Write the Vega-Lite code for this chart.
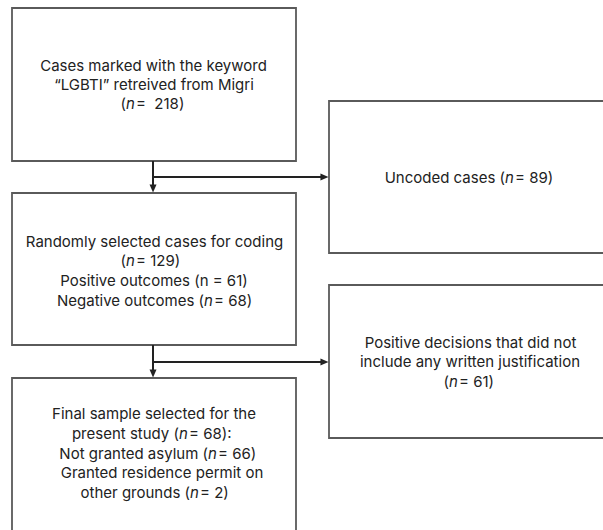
{
  "$schema": "https://vega.github.io/schema/vega-lite/v6.json",
  "width": 603,
  "height": 530,
  "autosize": "none",
  "padding": 0,
  "background": "white",
  "config": {"view": {"stroke": null}},
  "datasets": {
    "boxes": [
      {"id": "b1", "x0": 12, "x1": 296, "y0": 8, "y1": 161},
      {"id": "b2", "x0": 12, "x1": 296, "y0": 193, "y1": 345},
      {"id": "b3", "x0": 12, "x1": 296, "y0": 378, "y1": 545},
      {"id": "r1", "x0": 329, "x1": 620, "y0": 101, "y1": 253},
      {"id": "r2", "x0": 329, "x1": 620, "y0": 285, "y1": 438}
    ],
    "connectors": [
      {"x0": 153, "y0": 161, "x1": 153, "y1": 188},
      {"x0": 153, "y0": 177, "x1": 324, "y1": 177},
      {"x0": 153, "y0": 345, "x1": 153, "y1": 373},
      {"x0": 153, "y0": 362, "x1": 324, "y1": 362}
    ],
    "heads": [
      {"x": 153, "y": 192.5, "dir": "down"},
      {"x": 328.5, "y": 177, "dir": "right"},
      {"x": 153, "y": 377.5, "dir": "down"},
      {"x": 328.5, "y": 362, "dir": "right"}
    ],
    "plain": [
      {"cx": 153.5, "y": 65.5, "text": "Cases marked with the keyword"},
      {"cx": 154, "y": 84.5, "text": "“LGBTI” retreived from Migri"},
      {"cx": 154.5, "y": 241.5, "text": "Randomly selected cases for coding"},
      {"cx": 154, "y": 281, "text": "Positive outcomes (n = 61)"},
      {"cx": 470.5, "y": 342.5, "text": "Positive decisions that did not"},
      {"cx": 470, "y": 362, "text": "include any written justification"},
      {"cx": 154, "y": 414, "text": "Final sample selected for the"},
      {"cx": 162, "y": 473, "text": "Granted residence permit on"}
    ],
    "nlines": [
      {"xn": 126, "y": 103.5, "pre": "(", "post": "\u00a0=\u00a0\u00a0218)"},
      {"xn": 505, "y": 177.5, "pre": "Uncoded cases (", "post": "\u00a0=\u00a089)"},
      {"xn": 126, "y": 261, "pre": "(", "post": "\u00a0=\u00a0129)"},
      {"xn": 204, "y": 301, "pre": "Negative outcomes (", "post": "\u00a0=\u00a068)"},
      {"xn": 449, "y": 382, "pre": "(", "post": "\u00a0=\u00a061)"},
      {"xn": 179, "y": 434, "pre": "present study (", "post": "\u00a0=\u00a068):"},
      {"xn": 208, "y": 453.5, "pre": "Not granted asylum (", "post": "\u00a0=\u00a066)"},
      {"xn": 190, "y": 492.5, "pre": "other grounds (", "post": "\u00a0=\u00a02)"}
    ]
  },
  "layer": [
    {
      "data": {"name": "boxes"},
      "mark": {"type": "rect", "fill": "white", "stroke": "#5a5a5a", "strokeWidth": 1.8, "clip": true},
      "encoding": {
        "x": {"field": "x0", "type": "quantitative", "scale": {"domain": [0, 603], "nice": false, "zero": false}, "axis": null},
        "x2": {"field": "x1"},
        "y": {"field": "y0", "type": "quantitative", "scale": {"domain": [530, 0], "nice": false, "zero": false}, "axis": null},
        "y2": {"field": "y1"}
      }
    },
    {
      "data": {"name": "connectors"},
      "mark": {"type": "rule", "stroke": "#222222", "strokeWidth": 2},
      "encoding": {
        "x": {"field": "x0", "type": "quantitative", "scale": {"domain": [0, 603], "nice": false, "zero": false}, "axis": null},
        "x2": {"field": "x1"},
        "y": {"field": "y0", "type": "quantitative", "scale": {"domain": [530, 0], "nice": false, "zero": false}, "axis": null},
        "y2": {"field": "y1"}
      }
    },
    {
      "data": {"name": "heads"},
      "mark": {"type": "point", "filled": true, "color": "#222222", "opacity": 1, "size": 49, "strokeWidth": 0},
      "encoding": {
        "x": {"field": "x", "type": "quantitative", "scale": {"domain": [0, 603], "nice": false, "zero": false}, "axis": null},
        "y": {"field": "y", "type": "quantitative", "scale": {"domain": [530, 0], "nice": false, "zero": false}, "axis": null},
        "shape": {"field": "dir", "type": "nominal", "legend": null,
          "scale": {"domain": ["down", "right"], "range": ["M0,0L-1,-2.3L1,-2.3Z", "M0,0L-2.3,-1L-2.3,1Z"]}}
      }
    },
    {
      "data": {"name": "plain"},
      "mark": {"type": "text", "font": "Inter", "fontSize": 15, "color": "#222222", "align": "center", "baseline": "middle"},
      "encoding": {
        "x": {"field": "cx", "type": "quantitative", "scale": {"domain": [0, 603], "nice": false, "zero": false}, "axis": null},
        "y": {"field": "y", "type": "quantitative", "scale": {"domain": [530, 0], "nice": false, "zero": false}, "axis": null},
        "text": {"field": "text"}
      }
    },
    {
      "data": {"name": "nlines"},
      "mark": {"type": "text", "font": "Inter", "fontSize": 15, "color": "#222222", "align": "right", "baseline": "middle"},
      "encoding": {
        "x": {"field": "xn", "type": "quantitative", "scale": {"domain": [0, 603], "nice": false, "zero": false}, "axis": null},
        "y": {"field": "y", "type": "quantitative", "scale": {"domain": [530, 0], "nice": false, "zero": false}, "axis": null},
        "text": {"field": "pre"}
      }
    },
    {
      "data": {"name": "nlines"},
      "mark": {"type": "text", "font": "Inter", "fontSize": 15, "fontStyle": "italic", "color": "#222222", "align": "left", "baseline": "middle"},
      "encoding": {
        "x": {"field": "xn", "type": "quantitative", "scale": {"domain": [0, 603], "nice": false, "zero": false}, "axis": null},
        "y": {"field": "y", "type": "quantitative", "scale": {"domain": [530, 0], "nice": false, "zero": false}, "axis": null},
        "text": {"value": "n"}
      }
    },
    {
      "data": {"name": "nlines"},
      "mark": {"type": "text", "font": "Inter", "fontSize": 15, "color": "#222222", "align": "left", "baseline": "middle", "dx": 10},
      "encoding": {
        "x": {"field": "xn", "type": "quantitative", "scale": {"domain": [0, 603], "nice": false, "zero": false}, "axis": null},
        "y": {"field": "y", "type": "quantitative", "scale": {"domain": [530, 0], "nice": false, "zero": false}, "axis": null},
        "text": {"field": "post"}
      }
    }
  ]
}
